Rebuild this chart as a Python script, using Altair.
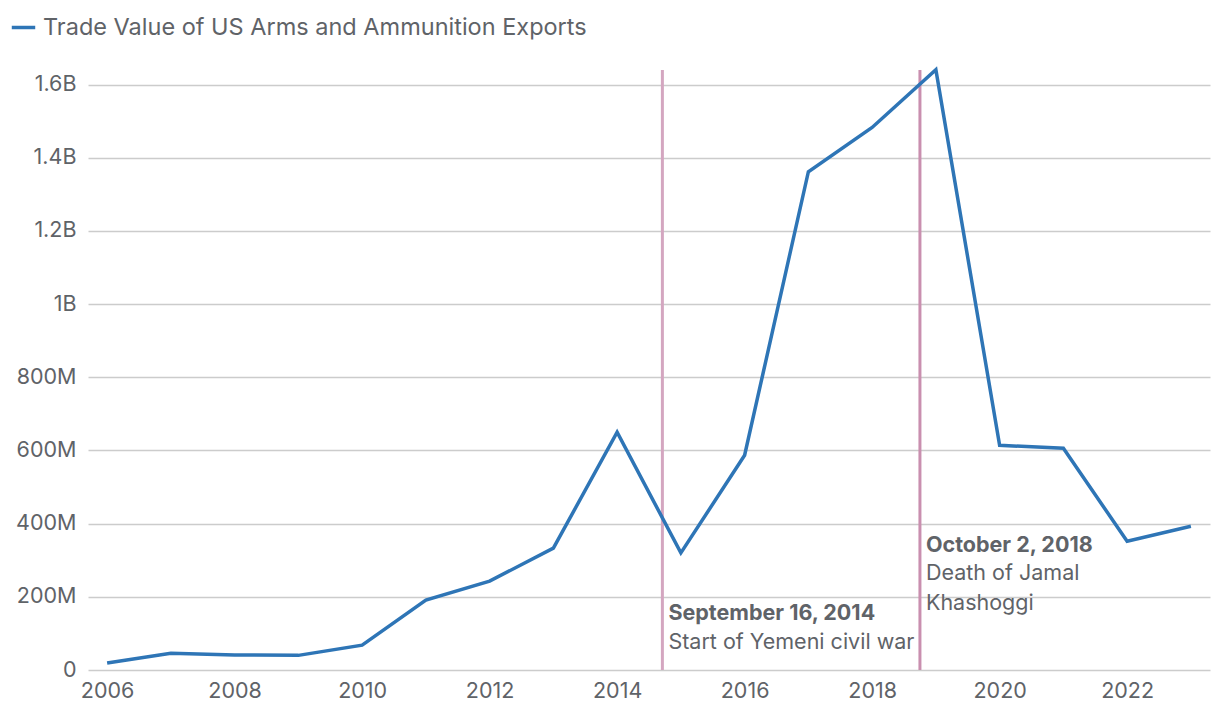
import altair as alt
import pandas as pd

years = list(range(2006, 2024))
values_m = [19, 46, 41, 40, 68, 191, 243, 333, 650, 320, 587, 1362, 1483, 1641, 614, 606, 352, 393]
series_name = "Trade Value of US Arms and Ammunition Exports"

event_x = [2014.71, 2018.75]
event_color = ["#d4a6c0", "#c98faf"]

ann_x = [2014.71, 2014.71, 2018.75, 2018.75, 2018.75]
ann_y = [153, 74, 339, 262, 180]
ann_text = ["September 16, 2014", "Start of Yemeni civil war", "October 2, 2018", "Death of Jamal", "Khashoggi"]
ann_bold = [True, False, True, False, False]

x_ticks = [2006, 2008, 2010, 2012, 2014, 2016, 2018, 2020, 2022]
y_ticks = [0, 200e6, 400e6, 600e6, 800e6, 1000e6, 1200e6, 1400e6, 1600e6]

FONT = "Inter"
GREY = "#5f6368"

df = pd.DataFrame({"year": years, "value": [v * 1e6 for v in values_m], "series": series_name})
ev = pd.DataFrame({"x": event_x, "c": event_color})
ann = pd.DataFrame({"x": ann_x, "y": [v * 1e6 for v in ann_y], "t": ann_text, "b": ann_bold})

xs = alt.Scale(domain=[2005.7, 2023.3], nice=False, zero=False)
ys = alt.Scale(domain=[0, 1.64e9], nice=False)

label_expr = ("datum.value == 0 ? '0' : (datum.value >= 1e9 ? format(datum.value/1e9, '~g') + 'B' : "
              "format(datum.value/1e6, '~g') + 'M')")

line = alt.Chart(df).mark_line(strokeWidth=3.5).encode(
    x=alt.X("year:Q", scale=xs, title=None,
            axis=alt.Axis(values=x_ticks, format="d", grid=False, domain=False, ticks=False,
                          labelFontSize=21.5, labelColor=GREY, labelFont=FONT, labelPadding=10)),
    y=alt.Y("value:Q", scale=ys, title=None,
            axis=alt.Axis(values=y_ticks, labelExpr=label_expr, grid=True, gridColor="#cccccc",
                          gridWidth=1.5, domain=False, ticks=False, labelFontSize=21.5,
                          labelColor=GREY, labelFont=FONT, labelPadding=12)),
    color=alt.Color("series:N", scale=alt.Scale(range=["#2e75b6"]), title=None,
                    legend=alt.Legend(orient="none", legendX=-78, legendY=-56, symbolType="stroke",
                                      symbolStrokeWidth=3.5, symbolSize=550, labelFontSize=23.5,
                                      labelColor=GREY, labelFont=FONT, labelLimit=800,
                                      labelOffset=6)),
)

rules = alt.Chart(ev).mark_rule(strokeWidth=3).encode(
    x=alt.X("x:Q", scale=xs),
    color=alt.Color("c:N", scale=None),
)

base_text = alt.Chart(ann).encode(
    x=alt.X("x:Q", scale=xs),
    y=alt.Y("y:Q", scale=ys),
    text="t:N",
)
bold_text = base_text.transform_filter("datum.b").mark_text(
    align="left", baseline="middle", dx=6, fontSize=21.5, font=FONT, color=GREY, fontWeight="bold")
norm_text = base_text.transform_filter("!datum.b").mark_text(
    align="left", baseline="middle", dx=6, fontSize=21.5, font=FONT, color=GREY)

chart = alt.layer(rules, line, bold_text, norm_text).properties(
    width=1122, height=600,
    autosize=alt.AutoSizeParams(type="none"),
    padding={"left": 80, "top": 62, "right": 2, "bottom": 40},
).configure_view(stroke=None).resolve_scale(color="independent")

chart.save("out.html", embed_options={"renderer": "svg", "actions": False})
